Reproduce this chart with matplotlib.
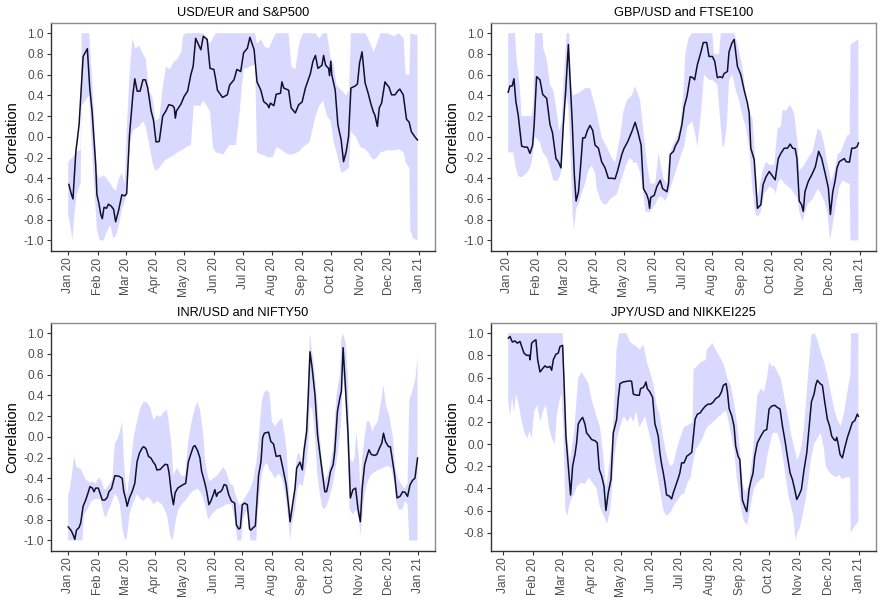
import matplotlib
matplotlib.use("Agg")
import matplotlib.pyplot as plt
import matplotlib.dates as mdates
from matplotlib.ticker import MultipleLocator, FormatStrFormatter
import numpy as np

plt.rcParams['font.family'] = ['Liberation Sans', 'DejaVu Sans']
plt.rcParams['axes.unicode_minus'] = False

# x values are days counted from 1 Jan 2020
START = '2020-01-01'

# ---------- USD/EUR and S&P500 ----------
usd_day = [0.7, 3.5, 5, 8, 9.3, 11.4, 15.6, 20, 22.5, 25, 28.7, 30, 32, 34, 35.6, 37.4, 40, 42, 45, 47.4,
           49.5, 52.6, 56, 59, 61, 64, 67.5, 69.5, 72, 75, 78, 80.6, 83, 86.5, 89, 91.7, 95, 98.6, 102, 105,
           109, 110.7, 111.8, 113, 117.6, 121, 124.6, 128, 130.4, 133, 136, 138.4, 141, 145, 148, 152, 154,
           155.7, 161, 166, 168.5, 173, 176, 180, 183, 187, 189.6, 194, 197, 201, 204, 208, 209.4, 211, 214.6,
           217, 221.5, 223, 225, 230, 232.6, 237, 240.5, 244, 247.5, 252.7, 255.4, 258, 260.6, 264.8, 266.5,
           268.6, 271.7, 272.7, 274, 275, 278.6, 281.4, 284.8, 287.3, 290, 292.5, 295, 299.4, 301.8, 304,
           306.6, 309.8, 313, 315.6, 318.4, 320, 322.6, 324.6, 327, 330.5, 332, 334.7, 337.4, 341, 343.7, 346,
           349.6, 353, 355.8, 358, 361.7, 364.4]
usd_corr = [-0.46, -0.56, -0.60, -0.14, -0.045, 0.12, 0.775, 0.85, 0.47, 0.24, -0.27, -0.56, -0.64, -0.75,
            -0.79, -0.68, -0.69, -0.65, -0.67, -0.70, -0.82, -0.71, -0.56, -0.57, -0.55, 0.02, 0.405, 0.56,
            0.44, 0.44, 0.55, 0.55, 0.47, 0.25, 0.16, -0.05, -0.045, 0.20, 0.25, 0.31, 0.30, 0.28, 0.18, 0.25,
            0.315, 0.39, 0.44, 0.60, 0.68, 0.95, 0.89, 0.84, 0.97, 0.94, 0.66, 0.65, 0.55, 0.45, 0.38, 0.405,
            0.50, 0.55, 0.65, 0.63, 0.81, 0.855, 0.96, 0.84, 0.53, 0.45, 0.34, 0.31, 0.28, 0.325, 0.30, 0.41,
            0.42, 0.53, 0.47, 0.45, 0.28, 0.23, 0.31, 0.335, 0.47, 0.61, 0.73, 0.785, 0.66, 0.69, 0.785, 0.69,
            0.66, 0.59, 0.73, 0.60, 0.45, 0.115, -0.03, -0.24, -0.145, 0.0, 0.47, 0.49, 0.51, 0.71, 0.82, 0.52,
            0.42, 0.325, 0.24, 0.21, 0.10, 0.28, 0.325, 0.53, 0.51, 0.48, 0.405, 0.405, 0.44, 0.46, 0.405, 0.17,
            0.14, 0.05, 0.0, -0.03]
usd_band_day = [0, 2, 4.5, 6, 9, 13, 14, 22, 24, 26, 28, 30, 33, 37, 40, 44, 47, 50, 53, 56, 59, 61, 64, 67,
                70, 74, 78, 81, 84, 88, 91, 95, 99, 102, 106, 110, 114, 118, 120, 123, 128, 131, 138, 141, 148,
                151, 154, 162, 168, 175, 179, 183, 195, 197, 201, 205, 209, 214, 217, 222, 226, 230, 233, 237,
                241, 245, 252, 258, 262, 266, 270, 274, 277, 280, 285, 290, 293, 295, 300, 305, 310, 313, 316,
                319, 322, 326, 333, 340, 345, 350, 352, 356, 357, 360, 364.5]
usd_lo = [-0.75, -0.85, -1.0, -0.80, -0.55, -0.45, 0.30, 0.40, 0.00, -0.30, -0.60, -0.90, -1.0, -1.0, -0.92,
          -0.85, -0.98, -0.95, -0.85, -0.70, -0.62, -0.55, -0.10, 0.05, 0.08, 0.10, 0.15, 0.10, -0.05, -0.25,
          -0.33, -0.30, -0.25, -0.22, -0.20, -0.18, -0.15, -0.13, -0.12, -0.10, -0.08, 0.30, 0.30, 0.35, 0.25,
          -0.10, -0.15, -0.17, -0.08, -0.08, 0.25, 0.65, 0.70, -0.15, -0.17, -0.18, -0.20, -0.19, -0.10, -0.12,
          -0.15, -0.17, -0.17, -0.16, -0.14, -0.10, -0.05, 0.20, 0.30, 0.35, 0.20, 0.15, -0.05, -0.15, -0.35,
          -0.32, -0.30, 0.05, 0.00, -0.10, -0.12, -0.15, -0.20, -0.22, -0.20, -0.15, -0.13, -0.13, -0.12, -0.15,
          -0.25, -0.30, -0.90, -0.98, -1.0]
usd_hi = [-0.25, -0.22, -0.20, -0.18, -0.14, -0.13, 1.0, 1.0, 0.70, 0.40, 0.00, -0.35, -0.40, -0.37, -0.40,
          -0.45, -0.50, -0.52, -0.40, -0.35, -0.45, 0.05, 0.60, 0.95, 0.85, 0.88, 0.80, 0.75, 0.45, 0.38, 0.15,
          0.18, 0.50, 0.68, 0.65, 0.72, 0.75, 0.82, 0.98, 1.0, 1.0, 1.0, 1.0, 1.0, 0.90, 0.95, 1.0, 1.0, 1.0,
          1.0, 1.0, 1.0, 1.0, 0.90, 0.94, 0.87, 0.85, 0.95, 1.0, 1.0, 1.0, 1.0, 0.68, 0.65, 0.90, 1.0, 1.0,
          1.0, 0.95, 1.0, 1.0, 0.75, 0.70, 0.50, 0.45, 0.40, 0.45, 1.0, 1.0, 1.0, 1.0, 0.95, 0.88, 0.82, 0.90,
          1.0, 1.0, 0.97, 1.0, 0.95, 0.60, 0.60, 1.0, 0.99, 0.98]

# ---------- GBP/USD and FTSE100 ----------
gbp_day = [1, 2.8, 5.2, 7, 9, 11.4, 15, 18.4, 21, 23.6, 26.4, 28, 30.5, 34, 36.8, 41, 44.4, 47, 50.6, 53,
           55.8, 58.3, 60.7, 63.5, 67.6, 69.7, 71.5, 74, 76.3, 78.4, 80.8, 83.2, 86, 88.8, 91.2, 94.7, 98,
           101.6, 105, 108.6, 112, 114.5, 119, 121.4, 125.2, 129.4, 132.8, 135.6, 139, 141.5, 145, 146.7,
           147.8, 149, 152.6, 155.4, 158.9, 161.3, 165.8, 167.5, 169.3, 172.7, 174.5, 178, 181.4, 183.8, 186.6,
           190, 192.8, 194.6, 197.4, 200.9, 203.6, 207.1, 209.5, 213, 215.4, 218.2, 221, 223.4, 225.1, 228.6,
           230.3, 233.1, 235.6, 239, 242.5, 246, 249.4, 251.2, 252.9, 256.4, 258.1, 259.8, 263.3, 265.7,
           268.5, 272, 275.5, 278.2, 281.4, 284.1, 287.6, 291, 293.8, 296.3, 299, 300.8, 303.2, 305.6, 307.4,
           309.1, 312.6, 316, 319.9, 323.3, 326.5, 330, 333.4, 335.5, 338, 340.3, 342.4, 344.8, 348.3, 350,
           351.8, 355.3, 357.7, 360.5, 363.2, 364.6]
gbp_corr = [0.43, 0.49, 0.49, 0.56, 0.34, 0.21, -0.09, -0.10, -0.10, -0.16, -0.08, 0.12, 0.58, 0.55, 0.41,
            0.37, 0.12, 0.04, -0.21, -0.24, -0.30, 0.12, 0.44, 0.89, 0.12, -0.37, -0.62, -0.53, -0.27, -0.01,
            -0.01, 0.06, 0.11, 0.06, -0.08, -0.11, -0.24, -0.30, -0.40, -0.40, -0.405, -0.33, -0.17, -0.11,
            -0.045, 0.05, 0.14, 0.05, -0.08, -0.50, -0.56, -0.61, -0.69, -0.585, -0.565, -0.48, -0.42, -0.50,
            -0.53, -0.45, -0.17, -0.14, -0.09, -0.03, 0.12, 0.29, 0.39, 0.58, 0.57, 0.55, 0.695, 0.81, 0.91,
            0.91, 0.775, 0.775, 0.73, 0.57, 0.58, 0.57, 0.61, 0.63, 0.82, 0.90, 0.94, 0.68, 0.60, 0.45, 0.325,
            0.23, -0.11, -0.22, -0.46, -0.69, -0.655, -0.46, -0.39, -0.335, -0.38, -0.415, -0.21, -0.16, -0.11,
            -0.11, -0.07, -0.11, -0.115, -0.21, -0.62, -0.655, -0.72, -0.53, -0.43, -0.37, -0.29, -0.14, -0.21,
            -0.35, -0.495, -0.75, -0.53, -0.43, -0.30, -0.24, -0.22, -0.21, -0.24, -0.245, -0.11, -0.11, -0.095,
            -0.06]
gbp_hi_day = [1, 8, 9.7, 13.2, 14.9, 25.3, 27, 28.8, 36.8, 37.5, 41, 44.4, 47.9, 51.3, 54.1, 56.5, 58.3,
              61.7, 64.5, 65.9, 68, 75.6, 80.8, 86, 91.2, 94.7, 98, 103.4, 108.6, 112, 117.2, 120.7, 124.2,
              129.4, 132.8, 138, 141.5, 145, 148.5, 153.7, 157.1, 159.9, 162.3, 165.8, 167.5, 171, 176.2,
              179.7, 183.1, 184.9, 188.3, 191.8, 213, 214.7, 219.9, 221.7, 235.6, 239, 244.2, 247.7, 251.2,
              254.6, 256.4, 258.1, 259.8, 265, 268.5, 272, 277.2, 280.7, 284.1, 285.9, 289.3, 293.8, 298,
              301.5, 303.2, 308.4, 311.9, 317.1, 322.3, 325.8, 329.2, 332.7, 336.2, 339.6, 343.1, 346.6,
              350.1, 353.5, 355.6, 356.3, 364.6]
gbp_hi = [1.0, 1.0, 0.76, 0.47, 0.20, 0.20, 0.30, 1.0, 1.0, 0.85, 0.75, 0.50, 0.45, 0.25, 0.05, 0.15, 0.50,
          1.0, 1.0, 0.55, 0.40, 0.43, 0.47, 0.47, 0.30, 0.15, 0.0, -0.10, -0.20, -0.25, 0.0, 0.25, 0.35, 0.40,
          0.49, 0.35, 0.05, -0.25, -0.45, -0.45, -0.15, -0.30, -0.40, -0.45, -0.25, -0.10, 0.0, 0.10, 0.45,
          0.80, 0.95, 1.0, 1.0, 0.80, 0.80, 1.0, 1.0, 0.90, 0.68, 0.40, 0.245, 0.18, -0.05, -0.33, -0.59,
          -0.33, -0.24, -0.27, -0.27, 0.08, 0.10, 0.26, 0.25, 0.31, 0.22, -0.06, -0.33, -0.27, -0.21, -0.14,
          0.08, 0.05, -0.08, -0.27, -0.43, -0.33, -0.17, -0.14, -0.05, 0.02, 0.02, 0.89, 0.94]
gbp_lo_day = [1, 6.2, 9, 11.4, 14.9, 20.1, 23.6, 25.3, 27, 28.8, 34, 36.8, 41, 44.4, 47.9, 51.3, 54.8, 56.5,
              58.3, 60.7, 63.5, 65.9, 68, 69.4, 71.5, 73.9, 77.3, 80.8, 84.3, 87.8, 91.2, 93, 96.4, 99.9,
              103.4, 106.8, 110.3, 113.8, 117.2, 120.7, 124.2, 127.6, 131.1, 134.6, 138, 140.8, 143.3, 147.8,
              150.2, 153.7, 157.1, 160.6, 164.1, 167.5, 171, 174.5, 177.9, 181.4, 183.5, 187, 192.2, 195.7,
              197.4, 200.9, 204.3, 209.5, 213, 218.2, 219.9, 223.4, 225.1, 227.9, 230.3, 233.8, 237.3, 240.8,
              244.2, 247.7, 251.2, 252.9, 254.6, 256.4, 258.1, 260.5, 263.3, 266.8, 272, 276.5, 278.9, 280.7,
              284.1, 287.6, 294.5, 298, 301.5, 303.2, 306.7, 308.4, 311.9, 317.1, 322.3, 325.8, 329.2, 332.7,
              335.1, 337.9, 341.4, 344.9, 348.3, 353.5, 355.6, 356.3, 364.6]
gbp_lo = [-0.15, -0.15, -0.30, -0.38, -0.39, -0.35, -0.30, -0.25, -0.15, 0.0, -0.05, -0.15, -0.20, -0.30,
          -0.42, -0.43, -0.38, -0.30, 0.0, 0.40, 0.30, -0.20, -0.75, -0.90, -0.70, -0.65, -0.55, -0.45, -0.32,
          -0.28, -0.35, -0.50, -0.60, -0.65, -0.65, -0.60, -0.58, -0.55, -0.45, -0.35, -0.25, -0.20, -0.25,
          -0.25, -0.35, -0.50, -0.72, -0.73, -0.70, -0.65, -0.58, -0.58, -0.62, -0.55, -0.45, -0.35, -0.25,
          -0.15, -0.10, 0.10, 0.15, 0.0, -0.10, 0.20, 0.60, 0.55, 0.55, 0.50, 0.30, -0.08, -0.10, 0.10, 0.55,
          0.60, 0.45, 0.35, 0.20, 0.10, -0.10, -0.30, -0.50, -0.65, -0.75, -0.77, -0.72, -0.55, -0.48, -0.50,
          -0.55, -0.45, -0.40, -0.45, -0.50, -0.55, -0.60, -0.72, -0.82, -0.75, -0.65, -0.60, -0.50, -0.55,
          -0.62, -0.75, -1.0, -0.85, -0.65, -0.48, -0.42, -0.45, -0.45, -1.0, -1.0]

# ---------- INR/USD and NIFTY50 ----------
inr_day = [0, 2.8, 5.2, 6.9, 8.7, 11.4, 13.1, 15.6, 18.3, 20.8, 22.8, 25.3, 27, 28.7, 31.5, 33.9, 35.6, 38.4,
           40.8, 42.6, 45.3, 46.7, 48.8, 53, 56.4, 58.1, 59.9, 61.6, 64, 66.8, 69.6, 72, 74.4, 77.2, 78.9,
           81.3, 84, 86.5, 88.6, 91, 92.7, 96.2, 98.6, 101.4, 103.8, 105.5, 107.6, 110, 111.8, 114.5, 116.9,
           120.4, 122.8, 125.6, 128.4, 130.8, 132.5, 135.3, 137.7, 139.4, 142.9, 144.6, 147.1, 149.1, 151.6,
           153.3, 155, 156.7, 159.2, 160.9, 163, 165.4, 167.8, 170.6, 174, 175.8, 178.2, 179.9, 182, 184.4,
           187.2, 189.6, 191, 193, 195.6, 197.3, 199, 201.5, 203.2, 205, 209.4, 211.8, 214.6, 217.4, 221.5,
           224.3, 227.8, 230.2, 231.9, 234.7, 237.1, 238.8, 242.3, 244.7, 246.4, 249.2, 250.9, 252.7, 255,
           257.9, 260.6, 264.1, 268.2, 270, 271.7, 274.1, 276.9, 278.6, 281.4, 283.8, 285.5, 287.3, 290,
           292.5, 294.9, 297.6, 300.4, 302.8, 305.3, 307.3, 309.8, 312.2, 314.3, 316.7, 320.1, 322.6, 325.3,
           327.8, 329.5, 331.6, 334.7, 336.7, 338.5, 340.9, 343.7, 346.8, 349.6, 352, 354.7, 357.2, 359.9,
           362.4, 365.1]
inr_corr = [-0.87, -0.90, -0.945, -0.99, -0.90, -0.875, -0.83, -0.67, -0.61, -0.54, -0.48, -0.495, -0.53,
            -0.495, -0.495, -0.56, -0.61, -0.61, -0.585, -0.53, -0.50, -0.45, -0.375, -0.38, -0.40, -0.53,
            -0.59, -0.67, -0.59, -0.53, -0.45, -0.24, -0.16, -0.11, -0.095, -0.115, -0.19, -0.205, -0.24, -0.27,
            -0.32, -0.315, -0.29, -0.265, -0.27, -0.35, -0.53, -0.655, -0.54, -0.495, -0.48, -0.46, -0.45,
            -0.24, -0.16, -0.095, -0.085, -0.135, -0.205, -0.33, -0.45, -0.52, -0.655, -0.62, -0.56, -0.51,
            -0.575, -0.54, -0.53, -0.51, -0.46, -0.47, -0.56, -0.62, -0.64, -0.85, -0.89, -0.88, -0.655, -0.64,
            -0.655, -0.89, -0.90, -0.88, -0.86, -0.62, -0.37, -0.24, -0.01, 0.035, 0.045, -0.045, -0.07, -0.19,
            -0.18, -0.30, -0.46, -0.655, -0.82, -0.64, -0.495, -0.30, -0.245, -0.32, -0.14, 0.05, 0.39, 0.82,
            0.66, 0.405, 0.02, -0.24, -0.53, -0.53, -0.46, -0.335, -0.27, -0.14, 0.245, 0.37, 0.44, 0.86, 0.44,
            0.02, -0.59, -0.51, -0.495, -0.69, -0.82, -0.495, -0.27, -0.19, -0.125, -0.17, -0.18, -0.17, -0.11,
            -0.06, 0.035, -0.045, -0.095, -0.095, -0.205, -0.35, -0.59, -0.575, -0.53, -0.535, -0.575, -0.465,
            -0.42, -0.40, -0.205]
inr_hi_day = [0, 1, 3.8, 6.2, 8.7, 13.1, 15.6, 18.3, 21.8, 25.3, 28.7, 32.2, 34.9, 37.4, 39.1, 42.6, 46,
              48.8, 51.2, 54, 56.4, 58.1, 59.9, 61.6, 64, 68.5, 72, 75.4, 78.9, 82.4, 85.8, 89.3, 92.7, 96.2,
              99.7, 103.1, 105.5, 107.6, 110, 113.5, 118.7, 122.1, 125.6, 129.1, 132.5, 135.3, 137.7, 139.4,
              141.2, 142.9, 146.4, 148.1, 151.6, 155, 158.5, 161.9, 165.4, 168.9, 172.3, 175.8, 179.2, 182.7,
              186.9, 190.4, 193.8, 197.3, 200.1, 202.5, 204.9, 207.7, 210.4, 212.9, 216.3, 219.8, 223.3,
              226.7, 228.4, 230.2, 231.9, 233.6, 236.4, 238.8, 240.6, 242.3, 244, 245.7, 248.5, 250.9, 252.7,
              254.4, 256.1, 257.9, 260.3, 263, 264.8, 268.2, 271.7, 274.1, 276.9, 280.3, 283.8, 285.5, 287.3,
              290, 292.5, 294.2, 297, 299.4, 301.1, 303.9, 305.3, 307.3, 309.8, 312.2, 314.9, 317.7, 320.1,
              323.6, 327.1, 329.5, 332.2, 335.7, 339.2, 341.9, 344.4, 347.8, 351.3, 354.7, 356.5, 359.9,
              362.7, 365.1]
inr_hi = [-0.55, -0.54, -0.37, -0.19, -0.29, -0.31, -0.36, -0.41, -0.44, -0.43, -0.45, -0.39, -0.43, -0.50,
          -0.51, -0.46, -0.41, -0.06, -0.03, 0.05, 0.15, -0.21, -0.43, -0.56, -0.37, 0.0, 0.15, 0.28, 0.34,
          0.33, 0.28, 0.16, 0.21, 0.19, 0.24, 0.26, 0.12, -0.05, -0.37, -0.30, -0.38, -0.37, -0.03, 0.15, 0.28,
          0.34, 0.26, 0.15, 0.02, -0.21, -0.40, -0.43, -0.40, -0.38, -0.34, -0.29, -0.34, -0.45, -0.47, -0.59,
          -0.66, -0.62, -0.55, -0.50, -0.40, -0.20, 0.10, 0.35, 0.43, 0.45, 0.42, 0.15, 0.10, 0.15, 0.18, 0.0,
          -0.15, -0.45, -0.70, -0.70, -0.50, -0.20, -0.15, -0.18, -0.25, -0.10, 0.10, 0.60, 1.0, 0.85, 0.75,
          0.60, 0.35, 0.0, -0.20, -0.42, -0.35, -0.25, -0.10, 0.40, 0.60, 0.95, 1.0, 0.90, 0.55, -0.20, -0.25,
          -0.20, 0.05, -0.20, -0.50, -0.20, 0.0, 0.15, 0.15, 0.05, 0.10, 0.15, 0.35, 0.50, 0.30, 0.20, 0.0,
          -0.30, -0.40, -0.45, -0.50, -0.45, 0.35, 0.45, 0.55, 0.78]
inr_lo_day = [0, 14.9, 16.6, 20.1, 23.5, 27, 33.9, 37.4, 39.1, 42.6, 46, 48.8, 51.2, 54, 56.4, 58.1, 59.9,
              61.6, 64, 67.5, 72, 75.4, 78.9, 82.4, 85.8, 89.3, 92.7, 97.9, 103.1, 106.6, 108.3, 110, 112.5,
              115.2, 118.7, 123.9, 127.3, 130.8, 135.3, 139.4, 142.9, 146.4, 149.8, 155, 160.2, 165.4, 170.6,
              174, 176.8, 181, 182.7, 186, 188.5, 190.4, 196.6, 198, 200.1, 202.5, 204.9, 207.7, 210.4, 212.9,
              216.3, 219.8, 223.3, 226.7, 230.2, 231.9, 233.6, 237.1, 239.5, 242.3, 245.1, 246.4, 249.2,
              250.9, 252.7, 255.4, 257.9, 260.3, 263, 264.8, 266.5, 269.3, 271.7, 274.1, 276.9, 280.3, 283.8,
              285.5, 287.3, 289, 291.4, 294.2, 297.6, 301.1, 303.9, 305.3, 307, 309.8, 312.2, 315.6, 318.4,
              323.6, 328.8, 334, 337.4, 340.9, 342.6, 345.4, 348.9, 352.3, 354.7, 356.5, 365.1]
inr_lo = [-1.0, -1.0, -0.75, -0.70, -0.63, -0.60, -0.60, -0.75, -0.78, -0.70, -0.62, -0.55, -0.58, -0.65,
          -0.87, -0.95, -1.0, -0.96, -0.75, -0.65, -0.55, -0.60, -0.62, -0.58, -0.60, -0.65, -0.62, -0.65,
          -0.75, -0.95, -1.0, -0.95, -0.80, -0.70, -0.65, -0.60, -0.55, -0.52, -0.50, -0.55, -0.65, -0.80,
          -0.75, -0.70, -0.68, -0.65, -0.65, -0.80, -1.0, -1.0, -0.80, -0.72, -0.75, -1.0, -1.0, -0.75, -0.55,
          -0.35, -0.28, -0.25, -0.32, -0.35, -0.40, -0.35, -0.40, -0.55, -0.80, -1.0, -0.85, -0.70, -0.50,
          -0.45, -0.48, -0.40, -0.25, -0.10, 0.30, 0.25, 0.0, -0.35, -0.55, -0.65, -0.70, -0.68, -0.62, -0.55,
          -0.45, -0.25, 0.0, 0.20, 0.60, 0.45, 0.0, -0.70, -0.75, -0.70, -0.80, -0.95, -0.80, -0.55, -0.45,
          -0.38, -0.35, -0.32, -0.30, -0.28, -0.30, -0.45, -0.62, -0.70, -0.70, -0.62, -0.65, -1.0, -1.0]

# ---------- JPY/USD and NIKKEI225 ----------
jpy_day = [5.2, 6.9, 9.3, 12, 14.4, 17.2, 18.9, 21.3, 24, 26.8, 27.5, 29.2, 31.6, 33.6, 35.4, 37.8, 40.5,
           42.9, 45.3, 48, 49.8, 51.5, 54.2, 56.6, 58.4, 61.1, 62.5, 64.5, 66.9, 69.3, 71.4, 73.8, 75.5, 77.2,
           79, 81.7, 84.1, 85.8, 88.6, 91, 94.4, 96.8, 98.9, 101.3, 103.7, 105.7, 108.1, 110.9, 113.3, 115,
           116.7, 118.4, 120.2, 123.6, 127, 130.5, 132.2, 133.9, 137.3, 140.1, 141.4, 144.2, 145.9, 146.9,
           148.3, 151, 153.8, 156.2, 157.9, 159.6, 161.3, 163.1, 164.8, 166.5, 168.2, 171, 173.4, 175.1, 177.8,
           180.2, 181.9, 183.7, 186.2, 189, 191.4, 194.1, 195.8, 197.6, 200, 202.7, 205.1, 207.9, 211, 213.7,
           216.4, 218.8, 222.3, 224.7, 226.7, 229.5, 230.9, 232.6, 235.3, 237.7, 239.4, 241.8, 243.6, 245.3,
           246.3, 248.7, 250.8, 253.2, 254.9, 257.3, 259, 261.7, 265.2, 268.6, 271.4, 273.8, 276.2, 279.6,
           282.3, 285.1, 287.5, 290.2, 292.6, 295.4, 297.8, 300.2, 302.3, 304.7, 307.1, 309.8, 312.6, 315,
           317.4, 320.1, 321.8, 323.5, 326.3, 328.7, 331.1, 333.8, 336.2, 338.3, 340.7, 342.4, 343.5, 344.8,
           346.9, 349.3, 351.7, 354.5, 357.2, 359.6, 362, 364.7, 365.8]
jpy_corr = [0.955, 0.97, 0.92, 0.93, 0.91, 0.925, 0.88, 0.82, 0.80, 0.80, 0.76, 0.91, 0.93, 0.94, 0.76, 0.65,
            0.68, 0.705, 0.69, 0.70, 0.665, 0.76, 0.81, 0.82, 0.88, 0.89, 0.575, 0.07, -0.20, -0.46, -0.20,
            -0.095, 0.01, 0.18, 0.21, 0.24, 0.18, 0.10, 0.07, 0.04, 0.03, 0.01, -0.23, -0.29, -0.38, -0.60,
            -0.44, -0.32, 0.10, 0.16, 0.22, 0.41, 0.545, 0.56, 0.565, 0.57, 0.565, 0.45, 0.44, 0.44, 0.50, 0.51,
            0.535, 0.56, 0.50, 0.47, 0.42, 0.18, 0.13, 0.07, -0.08, -0.185, -0.26, -0.35, -0.46, -0.47, -0.495,
            -0.44, -0.37, -0.31, -0.26, -0.17, -0.17, -0.11, -0.095, -0.075, 0.07, 0.225, 0.27, 0.28, 0.31,
            0.34, 0.36, 0.36, 0.38, 0.41, 0.43, 0.47, 0.53, 0.545, 0.47, 0.32, 0.255, 0.16, -0.02, -0.11,
            -0.14, -0.38, -0.505, -0.565, -0.61, -0.41, -0.34, -0.26, -0.11, 0.01, 0.07, 0.12, 0.13, 0.315,
            0.34, 0.35, 0.33, 0.315, 0.165, 0.03, -0.11, -0.26, -0.32, -0.41, -0.50, -0.46, -0.41, -0.23,
            -0.08, 0.15, 0.38, 0.45, 0.53, 0.575, 0.545, 0.53, 0.38, 0.225, 0.16, 0.07, 0.04, 0.03, 0.06, 0.01,
            -0.095, -0.125, -0.035, 0.06, 0.13, 0.195, 0.21, 0.27, 0.25]
jpy_hi_day = [5, 61.1, 62.5, 65.2, 68.7, 72.8, 77.2, 80.7, 84.1, 87.5, 91, 94.4, 97.8, 99.6, 103, 105.7,
              108.1, 111.6, 113.3, 115, 116.7, 119.5, 127, 130.5, 133.9, 137.3, 140.7, 144.2, 147.6, 151,
              154.5, 157.9, 161.3, 164.8, 168.2, 171.6, 175.1, 178.5, 182, 186, 192, 195, 196, 197.2, 203.4,
              208.5, 209.6, 215.4, 218.8, 224, 227.4, 230.9, 234.3, 237.7, 241.1, 242.9, 244.6, 247.3, 249.7,
              253.2, 256.6, 259.3, 261.7, 265.2, 268.6, 271.4, 273.8, 276.2, 278.9, 282.3, 285.8, 288.5,
              290.9, 294.4, 296.8, 299.5, 302.3, 304.7, 307.1, 309.8, 312.6, 315, 317.4, 320.8, 323.5, 327,
              330.4, 333.8, 337.3, 340.7, 344.1, 347.6, 351, 354.4, 357.5, 358.2, 365.8]
jpy_hi = [1.0, 1.0, 0.70, 0.10, -0.15, 0.10, 0.60, 0.65, 0.60, 0.55, 0.40, 0.30, 0.20, 0.15, -0.10, -0.40,
          -0.25, 0.0, 0.20, 0.50, 0.85, 1.0, 1.0, 0.92, 0.90, 0.88, 0.85, 0.90, 0.75, 0.65, 0.55, 0.35, 0.25,
          0.05, -0.10, -0.20, -0.18, -0.05, 0.05, 0.15, 0.18, 0.20, 0.68, 0.68, 0.74, 0.76, 0.85, 0.91, 0.85,
          0.77, 0.71, 0.59, 0.53, 0.38, 0.16, 0.0, -0.14, -0.38, -0.44, -0.35, -0.11, 0.19, 0.44, 0.50, 0.47,
          0.59, 0.74, 0.70, 0.71, 0.65, 0.59, 0.47, 0.35, 0.19, 0.07, -0.02, -0.14, -0.11, -0.02, 0.16, 0.47,
          0.74, 0.985, 1.0, 0.94, 0.83, 0.74, 0.62, 0.47, 0.32, 0.22, 0.16, 0.28, 0.47, 0.62, 1.0, 1.0]
jpy_lo_day = [5, 7, 9, 11, 13, 16, 19, 22, 25, 27, 29, 32, 35, 38, 41, 44, 47, 50, 53, 55, 58, 60, 62, 64, 66,
              68, 70, 73, 76, 80, 84, 88, 92, 96, 99, 102, 105, 107, 110, 112, 114, 117, 120, 124, 128, 131,
              134, 137, 140, 143, 146, 150, 153, 156, 159, 162, 165, 168, 172, 176, 180, 184, 186.2, 189.7,
              193.1, 195.8, 198.2, 201.7, 205.1, 209.6, 213.7, 218.8, 222.3, 225.7, 229.1, 230.9, 234.3,
              237.7, 240.5, 242.9, 245.3, 248, 251.4, 254.9, 258.3, 261.7, 265.2, 268.6, 272, 274.8, 277.2,
              282.3, 285.8, 288.5, 290.9, 293.3, 296.1, 298.8, 301.2, 303, 305.7, 308.1, 311.5, 313.9, 316.7,
              320.1, 323.5, 327, 330.4, 332.1, 335.6, 339, 342.4, 345.9, 349.3, 352.7, 357.2, 357.9, 361.3,
              365.8]
jpy_lo = [0.40, 0.25, 0.42, 0.28, 0.45, 0.35, 0.20, 0.10, 0.05, 0.12, 0.05, 0.30, 0.35, 0.20, 0.30, 0.35,
          0.15, 0.05, 0.00, 0.25, 0.40, 0.45, 0.10, -0.60, -0.65, -0.55, -0.50, -0.45, -0.38, -0.35, -0.36,
          -0.30, -0.35, -0.40, -0.55, -0.62, -0.68, -0.72, -0.60, -0.40, -0.15, 0.05, 0.15, 0.25, 0.20, 0.25,
          0.20, 0.30, 0.15, 0.20, 0.25, 0.10, 0.00, -0.15, -0.30, -0.45, -0.60, -0.65, -0.62, -0.55, -0.50,
          -0.45, -0.45, -0.35, -0.30, -0.15, -0.05, 0.0, 0.05, 0.15, 0.18, 0.22, 0.25, 0.28, 0.30, 0.25, 0.10,
          -0.05, -0.30, -0.45, -0.60, -0.70, -0.73, -0.55, -0.40, -0.35, -0.32, -0.30, -0.10, 0.0, 0.10, 0.10,
          0.0, -0.15, -0.30, -0.45, -0.55, -0.65, -0.87, -0.80, -0.75, -0.65, -0.50, -0.35, -0.15, 0.0, 0.05,
          0.10, -0.05, -0.20, -0.25, -0.28, -0.30, -0.28, -0.32, -0.30, -0.30, -0.80, -0.75, -0.70]

panels = [
    ("USD/EUR and S&P500", usd_day, usd_corr, usd_band_day, usd_hi, usd_band_day, usd_lo),
    ("GBP/USD and FTSE100", gbp_day, gbp_corr, gbp_hi_day, gbp_hi, gbp_lo_day, gbp_lo),
    ("INR/USD and NIFTY50", inr_day, inr_corr, inr_hi_day, inr_hi, inr_lo_day, inr_lo),
    ("JPY/USD and NIKKEI225", jpy_day, jpy_corr, jpy_hi_day, jpy_hi, jpy_lo_day, jpy_lo),
]

band_color = "#d9d9ff"
line_color = "#10102a"
text_grey = "#4d4d4d"

fig = plt.figure(figsize=(8.82, 6.0), dpi=100)
boxes = [
    [0.0575, 0.582, 0.4357, 0.38],
    [0.5563, 0.582, 0.4368, 0.38],
    [0.0575, 0.082, 0.4357, 0.38],
    [0.5563, 0.082, 0.4368, 0.38],
]

t0 = mdates.datestr2num(START)

for box, (title, day, corr, hday, hi, lday, lo) in zip(boxes, panels):
    ax = fig.add_axes(box)
    xd = t0 + np.array(day)
    xh = t0 + np.array(hday)
    xl = t0 + np.array(lday)
    # ribbon: upper edge forward, lower edge back
    ax.fill(np.r_[xh, xl[::-1]], np.r_[hi, lo[::-1]], color=band_color, lw=0)
    ax.plot(xd, corr, color=line_color, lw=1.1)

    # 5% padding like ggplot
    all_x = np.r_[xd, xh, xl]
    span = all_x.max() - all_x.min()
    ax.set_xlim(all_x.min() - 0.05 * span, all_x.max() + 0.05 * span)
    ymin = min(min(lo), min(corr))
    ymax = max(max(hi), max(corr))
    pad = 0.05 * (ymax - ymin)
    ax.set_ylim(ymin - pad, ymax + pad)

    ax.xaxis.set_major_locator(mdates.MonthLocator())
    ax.xaxis.set_major_formatter(mdates.DateFormatter('%b %y'))
    ax.yaxis.set_major_locator(MultipleLocator(0.2))
    ax.yaxis.set_major_formatter(FormatStrFormatter('%.1f'))
    ax.tick_params(axis='x', labelrotation=90)
    ax.tick_params(length=3, width=0.8, color="#333333", labelsize=8.6,
                   labelcolor=text_grey, pad=2)

    for side in ['left', 'bottom']:
        ax.spines[side].set_color("#333333")
        ax.spines[side].set_linewidth(1.0)
    for side in ['top', 'right']:
        ax.spines[side].set_color("#8c8c8c")
        ax.spines[side].set_linewidth(1.0)

    ax.set_title(title, fontsize=9.2, pad=5)
    ax.set_ylabel("Correlation", fontsize=10.5, labelpad=3)

fig.savefig("out.png", dpi=100)
